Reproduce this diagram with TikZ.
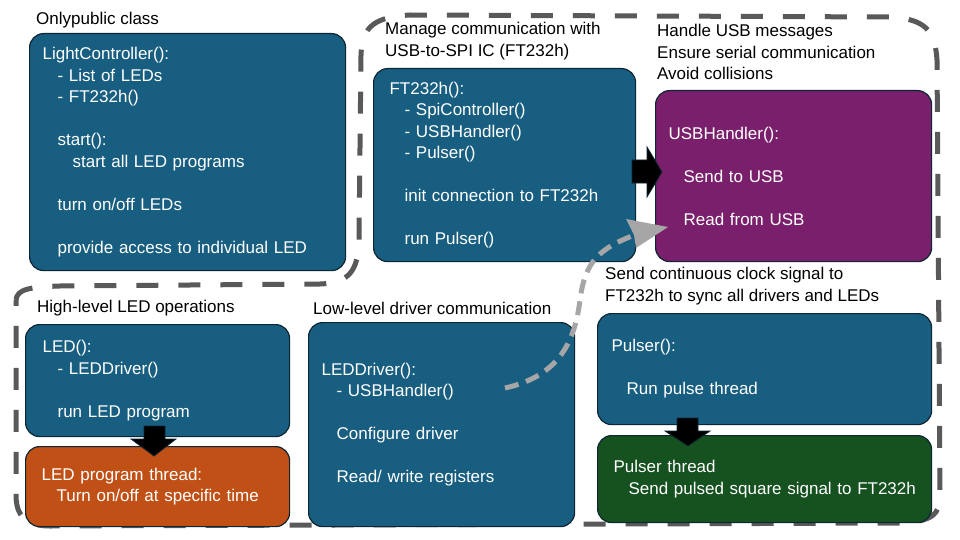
\documentclass[tikz,border=0pt]{standalone}
\usepackage{fontspec}
\setmainfont{Liberation Sans}
\usetikzlibrary{arrows.meta}
\definecolor{boxblue}{RGB}{24,94,128}
\definecolor{boxpurple}{RGB}{122,31,107}
\definecolor{boxorange}{RGB}{192,80,22}
\definecolor{boxgreen}{RGB}{22,81,32}
\definecolor{boxedge}{RGB}{14,38,52}
\definecolor{outlinegray}{RGB}{89,89,89}
\definecolor{arrowgray}{RGB}{166,166,166}
\tikzset{
  txt/.style={font=\fontsize{17}{21.5}\selectfont, align=left, inner sep=0pt},
  title/.style={txt, text=black, anchor=west},
  box/.style={draw=boxedge, line width=1.2pt, rounded corners=14pt, txt, text=white,
    anchor=north west, inner ysep=0pt},
  blockarrow/.style={fill=black, draw=boxedge, line width=0.8pt},
  outline/.style={draw=outlinegray, line width=5pt, dash pattern=on 22pt off 20pt},
  grayflow/.style={draw=arrowgray, line width=5pt, dash pattern=on 14pt off 8pt},
}
\newcommand{\ind}{\hspace*{15pt}}
\newcommand{\indd}{\hspace*{30pt}}
\begin{document}
\begin{tikzpicture}[x=1pt,y=-1pt]
\useasboundingbox (0,0) rectangle (960,540);

% dashed outline
\draw[outline] (16,300) .. controls (17,289) and (30,287) .. (60,286)
  -- (320,284) .. controls (350,283) and (358,270) .. (359,240)
  -- (361,55) .. controls (362,26) and (375,17) .. (410,15)
  -- (890,17) .. controls (925,19) and (935,30) .. (937,60)
  -- (940,495) .. controls (941,515) and (930,522) .. (900,523)
  -- (50,526) .. controls (25,526) and (16,515) .. (16,495) -- cycle;

% titles
\node[title] (t1) at (36,20) {Onlypublic class};
\node[title] (t2) at (385,41) {Manage communication with\\USB-to-SPI IC (FT232h)};
\node[title] (t3) at (657,52) {Handle USB messages\\Ensure serial communication\\Avoid collisions};
\node[title] (t4) at (37,308) {High-level LED operations};
\node[title] (t5) at (313,308) {Low-level driver communication};
\node[title] (t6) at (605,286) {Send continuous clock signal to\\FT232h to sync all drivers and LEDs};

% boxes
\node[box, fill=boxblue, minimum width=316pt, minimum height=237pt, inner xsep=13pt, text width=290pt]
  (lc) at (29,33) {LightController():\\\ind- List of LEDs\\\ind- FT232h()\\[21.5pt]\ind start():\\\indd start all LED programs\\[21.5pt]\ind turn on/off LEDs\\[21.5pt]\ind provide access to individual LED};
\node[box, fill=boxblue, minimum width=262pt, minimum height=193pt, inner xsep=16pt, text width=230pt]
  (ft) at (373,68) {FT232h():\\\ind- SpiController()\\\ind- USBHandler()\\\ind- Pulser()\\[21.5pt]\ind init connection to FT232h\\[21.5pt]\ind run Pulser()};
\node[box, fill=boxpurple, minimum width=276pt, minimum height=171pt, inner xsep=13pt, text width=250pt]
  (usb) at (655,90) {USBHandler():\\[21.5pt]\ind Send to USB\\[21.5pt]\ind Read from USB};
\node[box, fill=boxblue, minimum width=264pt, minimum height=112pt, inner xsep=17pt, text width=230pt]
  (led) at (25,324) {LED():\\\ind- LEDDriver()\\[21.5pt]\ind run LED program};
\node[box, fill=boxorange, minimum width=264pt, minimum height=80pt, inner xsep=16pt, text width=232pt]
  (ledth) at (25,446) {LED program thread:\\\ind\mbox{Turn on/off at specific time}};
\node[box, fill=boxblue, minimum width=266pt, minimum height=204pt, inner xsep=13pt, text width=240pt]
  (drv) at (308,322) {LEDDriver():\\\ind- USBHandler()\\[21.5pt]\ind Configure driver\\[21.5pt]\ind Read/ write registers};
\node[box, fill=boxblue, minimum width=334pt, minimum height=111pt, inner xsep=14pt, text width=306pt]
  (pul) at (597,313) {Pulser():\\[21.5pt]\ind Run pulse thread};
\node[box, fill=boxgreen, minimum width=334pt, minimum height=87pt, inner xsep=16pt, text width=302pt]
  (pulth) at (597,435) {Pulser thread\\\ind\mbox{Send pulsed square signal to FT232h}};

% block arrows
\draw[blockarrow] (632,160) -- (647,160) -- (647,147) -- (662,172) -- (647,197) -- (647,183) -- (632,183) -- cycle;
\draw[blockarrow] (144,426) -- (165,426) -- (165,439) -- (176,439) -- (154,456) -- (131,439) -- (144,439) -- cycle;
\draw[blockarrow] (677,418) -- (698,418) -- (698,431) -- (710,431) -- (688,446) -- (665,431) -- (677,431) -- cycle;

% gray dashed flow
\coordinate (gstart) at (505,388);
\coordinate (gend) at (640,233);
\draw[grayflow] (gstart) .. controls (560,376) and (575,340) .. (580,300)
  .. controls (585,262) and (598,248) .. (gend);
\fill[arrowgray] (668,227) -- (626,219) -- (634,235) -- (636,248) -- cycle;
\end{tikzpicture}
\end{document}
